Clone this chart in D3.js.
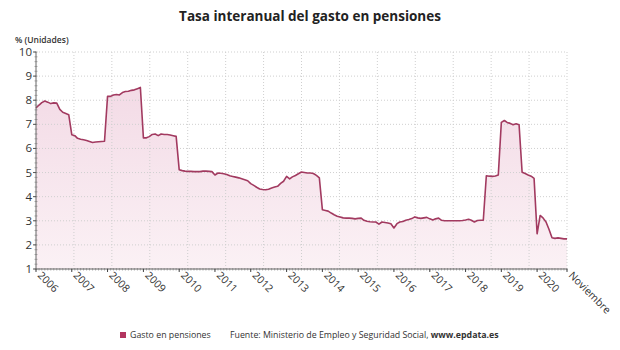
<!DOCTYPE html>
<html>
<head>
<meta charset="utf-8">
<script src="https://cdn.jsdelivr.net/npm/d3@7"></script>
<style>
  body { margin: 0; background: #fff; }
  svg { font-family: "Open Sans", sans-serif; }
  .grid line { stroke: #cfcfcf; stroke-dasharray: 1 2; }
  .tick-label { fill: #333; }
</style>
</head>
<body>
<div id="chart"></div>
<script>
// monthly year-on-year rate, one array per year (Jan..Dec)
const y2006 = [7.68, 7.80, 7.90, 7.97, 7.92, 7.86, 7.89, 7.88, 7.62, 7.50, 7.45, 7.40];
const y2007 = [6.57, 6.53, 6.42, 6.38, 6.36, 6.33, 6.29, 6.25, 6.27, 6.28, 6.29, 6.30];
const y2008 = [8.16, 8.16, 8.22, 8.24, 8.22, 8.32, 8.36, 8.37, 8.41, 8.43, 8.48, 8.53];
const y2009 = [6.44, 6.44, 6.49, 6.58, 6.60, 6.53, 6.60, 6.58, 6.58, 6.56, 6.53, 6.50];
const y2010 = [5.12, 5.08, 5.06, 5.05, 5.05, 5.04, 5.04, 5.04, 5.06, 5.06, 5.05, 5.04];
const y2011 = [4.90, 4.98, 4.97, 4.95, 4.92, 4.87, 4.84, 4.81, 4.78, 4.74, 4.70, 4.66];
const y2012 = [4.54, 4.47, 4.39, 4.32, 4.30, 4.29, 4.31, 4.36, 4.40, 4.43, 4.55, 4.64];
const y2013 = [4.84, 4.74, 4.82, 4.88, 4.95, 5.02, 5.00, 4.98, 4.98, 4.96, 4.88, 4.78];
const y2014 = [3.46, 3.43, 3.40, 3.32, 3.25, 3.19, 3.16, 3.12, 3.11, 3.11, 3.10, 3.08];
const y2015 = [3.10, 3.11, 3.02, 2.98, 2.96, 2.95, 2.95, 2.86, 2.95, 2.93, 2.91, 2.88];
const y2016 = [2.70, 2.88, 2.95, 2.97, 3.02, 3.05, 3.09, 3.16, 3.12, 3.10, 3.12, 3.14];
const y2017 = [3.08, 3.03, 3.08, 3.11, 3.02, 3.00, 3.00, 3.00, 3.00, 3.00, 3.00, 3.01];
const y2018 = [3.03, 3.06, 3.02, 2.95, 3.01, 3.02, 3.02, 4.87, 4.85, 4.84, 4.86, 4.90];
const y2019 = [7.08, 7.16, 7.08, 7.04, 6.98, 7.02, 6.98, 5.01, 4.96, 4.90, 4.85, 4.76];
const y2020 = [2.46, 3.22, 3.12, 2.95, 2.65, 2.30, 2.27, 2.29, 2.27, 2.25, 2.25];

const years = d3.range(2006, 2021);
const seriesByYear = [y2006, y2007, y2008, y2009, y2010, y2011, y2012, y2013,
  y2014, y2015, y2016, y2017, y2018, y2019, y2020];
const yTicks = [1, 2, 3, 4, 5, 6, 7, 8, 9, 10];
const xTickLabels = years.map(String).concat(["Noviembre"]);

const data = [];
seriesByYear.forEach((vals, i) => {
  vals.forEach((v, m) => data.push({ date: new Date(years[i], m, 1), value: v }));
});

const width = 620, height = 350;
const plot = { left: 36, right: 567, top: 52, bottom: 269 };
const lineColor = "#a23a60";

const svg = d3.select("#chart").append("svg")
  .attr("width", width)
  .attr("height", height);

const x = d3.scaleTime()
  .domain([data[0].date, data[data.length - 1].date])
  .range([plot.left, plot.right]);
const y = d3.scaleLinear().domain([1, 10]).range([plot.bottom, plot.top]);

// title
svg.append("text")
  .attr("x", 310).attr("y", 21)
  .attr("text-anchor", "middle")
  .attr("font-size", 13.5).attr("font-weight", 700)
  .attr("fill", "#222")
  .text("Tasa interanual del gasto en pensiones");

svg.append("text")
  .attr("x", 15).attr("y", 43)
  .attr("font-size", 8.5).attr("font-weight", 600)
  .attr("fill", "#333")
  .text("% (Unidades)");

// gradient for area
const defs = svg.append("defs");
const grad = defs.append("linearGradient")
  .attr("id", "areaGrad").attr("x1", 0).attr("x2", 0).attr("y1", 0).attr("y2", 1);
grad.append("stop").attr("offset", "0%").attr("stop-color", "#f3dbe6");
grad.append("stop").attr("offset", "100%").attr("stop-color", "#fbf1f5");

const area = d3.area()
  .x(d => x(d.date))
  .y0(plot.bottom)
  .y1(d => y(d.value));
svg.append("path")
  .datum(data)
  .attr("fill", "url(#areaGrad)")
  .attr("d", area);

// grid: horizontal at each unit, vertical evenly split
const grid = svg.append("g").attr("class", "grid");
grid.selectAll("line.h")
  .data(yTicks.slice(1))
  .enter().append("line")
  .attr("x1", plot.left).attr("x2", plot.right)
  .attr("y1", d => y(d)).attr("y2", d => y(d));
grid.selectAll("line.v")
  .data(d3.range(1, 15))
  .enter().append("line")
  .attr("x1", d => plot.left + d * (plot.right - plot.left) / 14)
  .attr("x2", d => plot.left + d * (plot.right - plot.left) / 14)
  .attr("y1", plot.top).attr("y2", plot.bottom);

// line
const line = d3.line()
  .x(d => x(d.date))
  .y(d => y(d.value));
svg.append("path")
  .datum(data)
  .attr("fill", "none")
  .attr("stroke", lineColor)
  .attr("stroke-width", 1.6)
  .attr("stroke-linejoin", "round")
  .attr("d", line);

// y axis
const yAxis = svg.append("g");
yAxis.append("line")
  .attr("x1", plot.left).attr("x2", plot.left)
  .attr("y1", plot.top).attr("y2", plot.bottom)
  .attr("stroke", "#666");
yAxis.selectAll("line.minor")
  .data(d3.range(1, 10.01, 0.2))
  .enter().append("line")
  .attr("x1", plot.left - 1.5).attr("x2", plot.left + 1.5)
  .attr("y1", d => y(d)).attr("y2", d => y(d))
  .attr("stroke", "#777").attr("stroke-width", 0.6);
yAxis.selectAll("line.major")
  .data(yTicks)
  .enter().append("line")
  .attr("x1", plot.left - 3).attr("x2", plot.left)
  .attr("y1", d => y(d)).attr("y2", d => y(d))
  .attr("stroke", "#555");
yAxis.selectAll("text")
  .data(yTicks)
  .enter().append("text")
  .attr("class", "tick-label")
  .attr("x", plot.left - 4)
  .attr("y", d => y(d) + 4)
  .attr("text-anchor", "end")
  .attr("font-size", 11.5)
  .text(d => d);

// x axis
const xAxis = svg.append("g");
xAxis.append("line")
  .attr("x1", plot.left).attr("x2", plot.right)
  .attr("y1", plot.bottom).attr("y2", plot.bottom)
  .attr("stroke", "#666");
xAxis.selectAll("line.minor")
  .data(data)
  .enter().append("line")
  .attr("x1", d => x(d.date)).attr("x2", d => x(d.date))
  .attr("y1", plot.bottom - 1).attr("y2", plot.bottom + 1.5)
  .attr("stroke", "#777").attr("stroke-width", 0.6);
const tickDates = years.map(yr => new Date(yr, 0, 1)).concat([data[data.length - 1].date]);
xAxis.selectAll("line.major")
  .data(tickDates)
  .enter().append("line")
  .attr("x1", d => x(d)).attr("x2", d => x(d))
  .attr("y1", plot.bottom).attr("y2", plot.bottom + 3)
  .attr("stroke", "#444");
xAxis.selectAll("text")
  .data(tickDates)
  .enter().append("text")
  .attr("class", "tick-label")
  .attr("transform", d => `translate(${x(d) + 1}, ${plot.bottom + 7}) rotate(45)`)
  .attr("font-size", 10.5)
  .attr("fill", "#333")
  .text((d, i) => xTickLabels[i]);

// legend / source
const legend = svg.append("g");
legend.append("rect")
  .attr("x", 120).attr("y", 332).attr("width", 6).attr("height", 6)
  .attr("fill", "#b2355f");
legend.append("text")
  .attr("x", 130).attr("y", 338)
  .attr("font-size", 8.8).attr("fill", "#333")
  .text("Gasto en pensiones");
const src = legend.append("text")
  .attr("x", 230).attr("y", 338)
  .attr("font-size", 8.8).attr("fill", "#333");
src.append("tspan").text("Fuente: Ministerio de Empleo y Seguridad Social, ");
src.append("tspan").attr("font-weight", 700).text("www.epdata.es");
</script>
</body>
</html>
